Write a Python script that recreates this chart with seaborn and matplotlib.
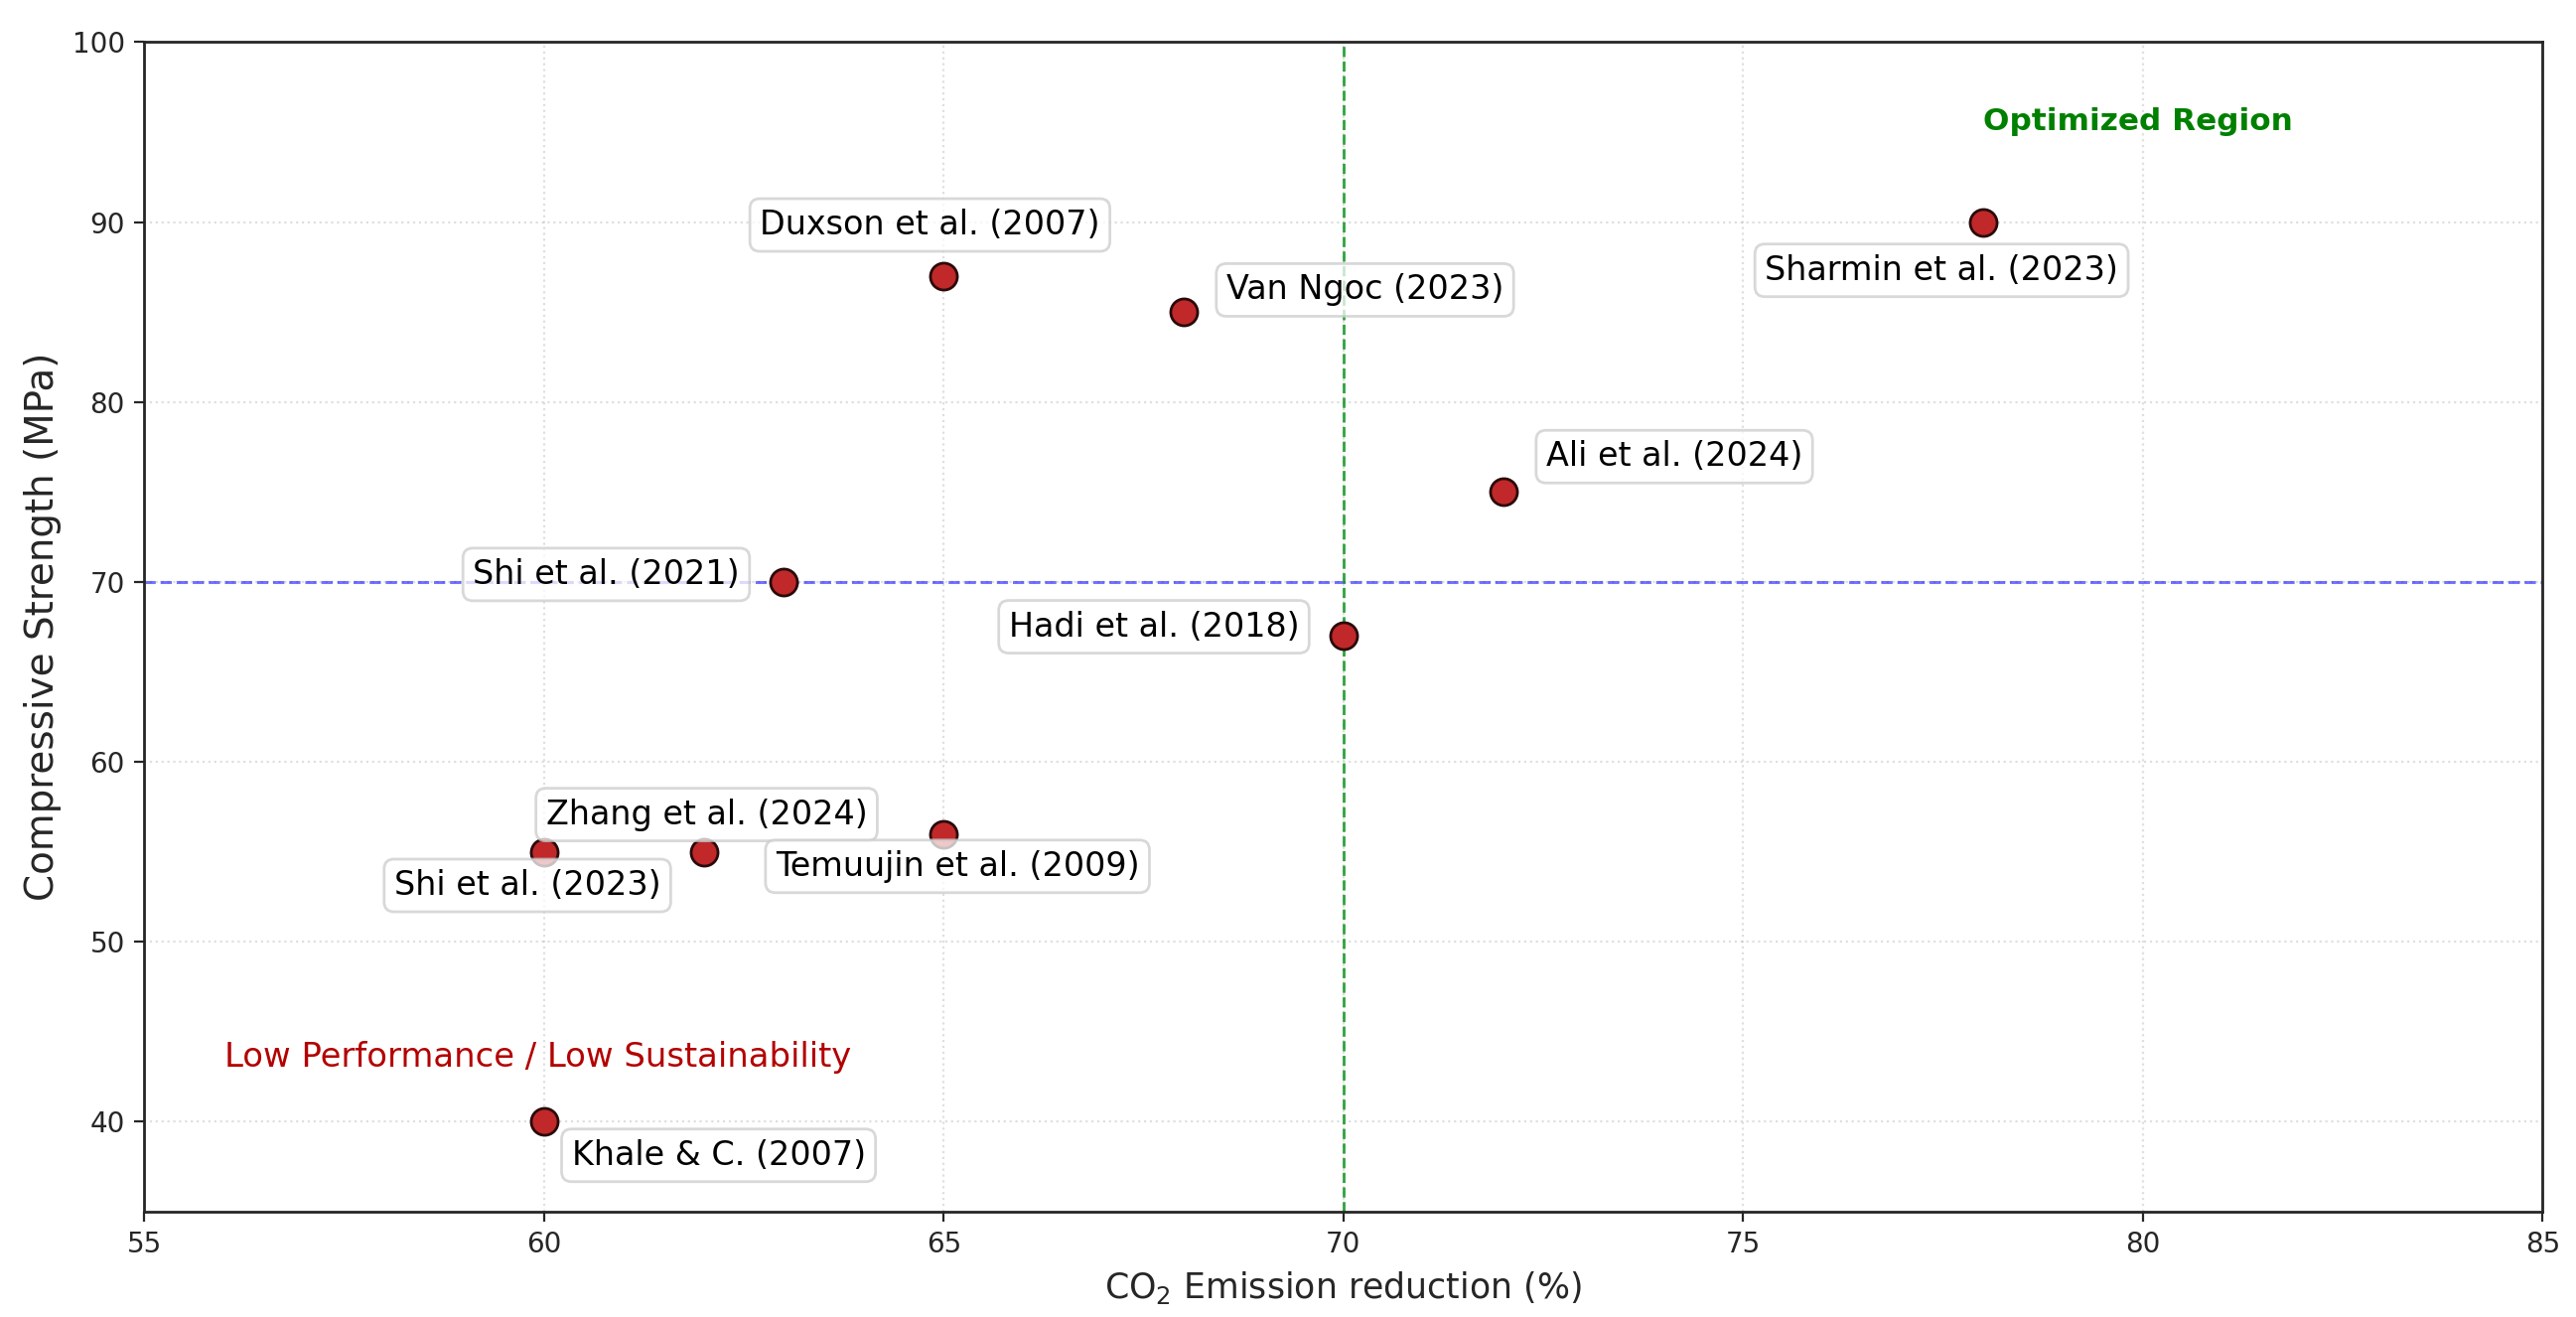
import matplotlib
matplotlib.use("Agg")
import matplotlib.pyplot as plt
import seaborn as sns
import pandas as pd

# data
studies = ["Duxson et al. (2007)", "Van Ngoc (2023)", "Sharmin et al. (2023)",
           "Ali et al. (2024)", "Shi et al. (2021)", "Hadi et al. (2018)",
           "Zhang et al. (2024)", "Shi et al. (2023)", "Temuujin et al. (2009)",
           "Khale & C. (2007)"]
co2_reduction = [65, 68, 78, 72, 63, 70, 62, 60, 65, 60]
strength = [87, 85, 90, 75, 70, 67, 55, 55, 56, 40]

strength_threshold = 70
co2_threshold = 70

# label placement (offset in points, horizontal alignment)
label_offsets = [(-5, 18.5, "center"), (15.5, 8, "left"), (-15, -17.5, "center"),
                 (15.5, 12.8, "left"), (-16, 2.7, "right"), (-16, 3.3, "right"),
                 (1, 13.5, "center"), (-6, -12.2, "center"), (5, -11.8, "center"),
                 (10, -12.2, "left")]

df = pd.DataFrame({"study": studies, "co2": co2_reduction, "strength": strength})

sns.set_style("ticks")
plt.rcParams["font.family"] = ["DejaVu Sans"]

fig, ax = plt.subplots(figsize=(12.97, 6.63), dpi=200)
fig.subplots_adjust(left=0.056, right=0.987, top=0.968, bottom=0.080)

ax.grid(True, linestyle=":", color="gray", alpha=0.25, linewidth=0.8)
ax.set_axisbelow(True)

ax.axhline(strength_threshold, color="blue", linestyle="--", linewidth=1.1, alpha=0.55, zorder=1)
ax.axvline(co2_threshold, color="#1a9a2a", linestyle="--", linewidth=1.0, alpha=0.9, zorder=1)

sns.scatterplot(data=df, x="co2", y="strength", ax=ax, s=95, color="#c0282a",
                edgecolor="#2a0a0a", linewidth=1.0, zorder=3)

for name, x, y, (dx, dy, ha) in zip(df["study"], df["co2"], df["strength"], label_offsets):
    ax.annotate(name, (x, y), xytext=(dx, dy), textcoords="offset points",
                ha=ha, va="center", fontsize=12, color="black", zorder=4,
                bbox=dict(boxstyle="round,pad=0.3", fc="white", ec="#cccccc", alpha=0.75))

ax.text(78, 95.6, "Optimized Region", color="green", fontsize=11.2, fontweight="bold",
        ha="left", va="center")
ax.text(56, 43.6, "Low Performance / Low Sustainability", color="#b30000", fontsize=12.2,
        ha="left", va="center")

ax.set_xlim(55, 85)
ax.set_ylim(35, 100)
ax.set_xticks(range(55, 86, 5))
ax.set_yticks(range(40, 101, 10))
ax.tick_params(labelsize=10)
ax.set_xlabel("CO$_2$ Emission reduction (%)", fontsize=12.5)
ax.set_ylabel("Compressive Strength (MPa)", fontsize=14)
for sp in ax.spines.values():
    sp.set_linewidth(1.0)

fig.savefig("out.png", dpi=200)
